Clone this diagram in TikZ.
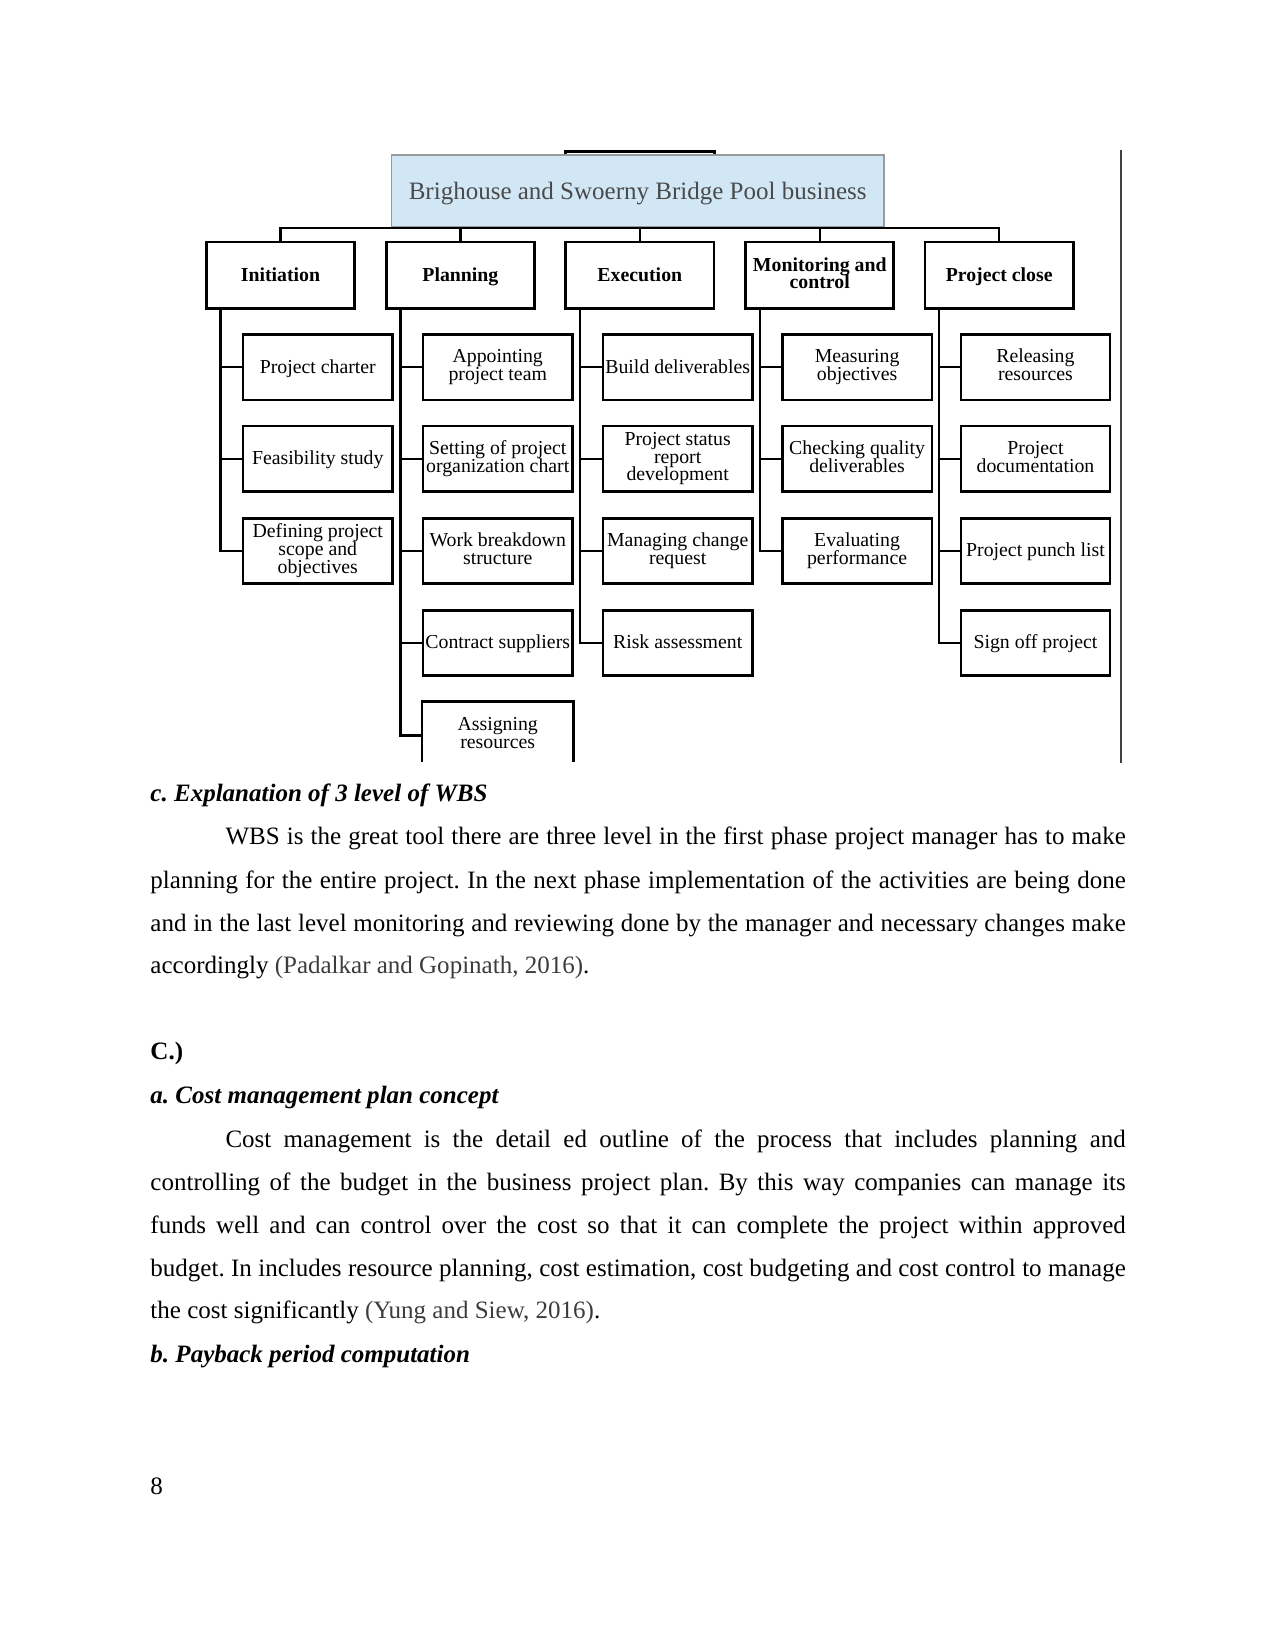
\documentclass[tikz,border=0pt]{standalone}
\usepackage{fontspec}
\setmainfont{Liberation Serif}
\usetikzlibrary{calc}
\definecolor{topfill}{HTML}{D2E7F6}
\definecolor{topdraw}{HTML}{9A9A9A}
\definecolor{toptext}{HTML}{4A4A4A}
\definecolor{citecol}{HTML}{3C3C3C}
\definecolor{rulecol}{HTML}{404040}
\frenchspacing
\newcommand{\tightlines}{\lineskiplimit=-10pt\relax}
\newcommand{\topstrut}{\vrule height 8pt depth 0pt width 0pt\relax}
\newcommand{\botstrut}{\vrule height 0pt depth 2.2pt width 0pt\relax}
\begin{document}
\begin{tikzpicture}[x=0.50495pt,y=-0.50495pt,
  lvl/.style={draw=black, line width=1.4pt, minimum width=71.2pt, minimum height=31.8pt,
    inner sep=1pt, align=center, font=\bfseries\fontsize{9.5}{8.3}\selectfont\tightlines,
    execute at begin node=\topstrut, execute at end node=\botstrut},
  kid/.style={draw=black, line width=1.2pt, minimum width=71.7pt, minimum height=31.3pt,
    inner sep=0.5pt, align=center, font=\fontsize{9.5}{8.6}\selectfont\tightlines,
    execute at begin node=\topstrut, execute at end node=\botstrut},
  kidopen/.style={kid, draw=none},
  conn/.style={line width=1.1pt},
  body/.style={anchor=base west, inner sep=0pt, font=\fontsize{12}{14}\selectfont},
  head/.style={body, font=\fontsize{12}{14}\selectfont\bfseries\itshape},
]
\useasboundingbox (0,0) rectangle (1212,1568);

% ---------- top of the chart ----------
\draw[line width=1.5pt] (537,148) -- (537,144) -- (679,144) -- (679,148);
\node[draw=topdraw, fill=topfill, line width=0.8pt, minimum width=236.3pt, minimum height=34.8pt,
  inner sep=0pt] (top) at (606,181.5) {};
\node[inner sep=0pt, font=\fontsize{12}{14}\selectfont, text=toptext, yshift=-1pt] (toplabel) at (top.center)
  {Brighouse and Swoerny Bridge Pool business};
\draw[rulecol, line width=0.8pt] (1065,143) -- (1065,725);

% ---------- level 1 ----------
\node[lvl] (init) at (266.5,261.5) {Initiation};
\node[lvl] (plan) at (437.5,261.5) {Planning};
\node[lvl] (exec) at (608,261.5) {Execution};
\node[lvl] (mon)  at (779,261.5) {Monitoring and\\control};
\node[lvl] (close) at (949.5,261.5) {Project close};

\coordinate (bus) at (608,217);
\draw[conn] (init.north) |- (bus) -| (close.north);
\draw[conn] (plan.north) -- (plan.north |- bus);
\draw[conn] (exec.north) -- (exec.north |- bus);
\draw[conn] (mon.north) -- (mon.north |- bus);

% ---------- level 2 ----------
\node[kid] (i1) at (302,349) {Project charter};
\node[kid] (i2) at (302,436) {Feasibility study};
\node[kid] (i3) at (302,523.5) {Defining project\\scope and\\objectives};

\node[kid] (p1) at (473,349) {Appointing\\project team};
\node[kid] (p2) at (473,436) {Setting of project\\organization chart};
\node[kid] (p3) at (473,523.5) {Work breakdown\\structure};
\node[kid] (p4) at (473,611) {Contract suppliers};
\node[kidopen] (p5) at (473,699) {Assigning\\resources};
\draw[line width=1.2pt] ($(p5.north west)+(0,57)$) -- (p5.north west) -- (p5.north east) -- ($(p5.north east)+(0,57)$);

\node[kid] (e1) at (644,349) {Build deliverables};
\node[kid] (e2) at (644,436) {Project status\\report\\development};
\node[kid] (e3) at (644,523.5) {Managing change\\request};
\node[kid] (e4) at (644,611) {Risk assessment};

\node[kid] (m1) at (814.5,349) {Measuring\\objectives};
\node[kid] (m2) at (814.5,436) {Checking quality\\deliverables};
\node[kid] (m3) at (814.5,523.5) {Evaluating\\performance};

\node[kid] (c1) at (984,349) {Releasing\\resources};
\node[kid] (c2) at (984,436) {Project\\documentation};
\node[kid] (c3) at (984,523.5) {Project punch list};
\node[kid] (c4) at (984,611) {Sign off project};

\coordinate (bi) at ($(init.south west)+(15,0)$);
\coordinate (bp) at ($(plan.south west)+(15,0)$);
\coordinate (be) at ($(exec.south west)+(15,0)$);
\coordinate (bm) at ($(mon.south west)+(15,0)$);
\coordinate (bc) at ($(close.south west)+(15,0)$);

\draw[conn] (bi) |- (i3.west);
\draw[conn] (i1.west) -- (i1.west -| bi);
\draw[conn] (i2.west) -- (i2.west -| bi);

\draw[conn] (bp) |- (p5.west);
\draw[conn] (p1.west) -- (p1.west -| bp);
\draw[conn] (p2.west) -- (p2.west -| bp);
\draw[conn] (p3.west) -- (p3.west -| bp);
\draw[conn] (p4.west) -- (p4.west -| bp);

\draw[conn] (be) |- (e4.west);
\draw[conn] (e1.west) -- (e1.west -| be);
\draw[conn] (e2.west) -- (e2.west -| be);
\draw[conn] (e3.west) -- (e3.west -| be);

\draw[conn] (bm) |- (m3.west);
\draw[conn] (m1.west) -- (m1.west -| bm);
\draw[conn] (m2.west) -- (m2.west -| bm);

\draw[conn] (bc) |- (c4.west);
\draw[conn] (c1.west) -- (c1.west -| bc);
\draw[conn] (c2.west) -- (c2.west -| bc);
\draw[conn] (c3.west) -- (c3.west -| bc);

% ---------- body text ----------
\node[head] (h1) at (142.6,762) {c. Explanation of 3 level of WBS};
\node[body] (a1) at (142.6,803) {\hbox to 468pt{\kern36pt WBS is the great tool there are three level in the first phase project manager has to make}};
\node[body] (a2) at (142.6,844) {\hbox to 468pt{planning for the entire project. In the next phase implementation of the activities are being done}};
\node[body] (a3) at (142.6,885) {\hbox to 468pt{and in the last level monitoring and reviewing done by the manager and necessary changes make}};
\node[body] (a4) at (142.6,925) {accordingly {\color{citecol}(Padalkar and Gopinath, 2016)}.};

\node[body, font=\fontsize{12}{14}\selectfont\bfseries] (h2) at (142.6,1007) {C.)};
\node[head] (h3) at (142.6,1049) {a. Cost management plan concept};
\node[body] (b1) at (142.6,1090) {\hbox to 468pt{\kern36pt Cost management is the detail ed outline of the process that includes planning and}};
\node[body] (b2) at (142.6,1131) {\hbox to 468pt{controlling of the budget in the business project plan. By this way companies can manage its}};
\node[body] (b3) at (142.6,1172) {\hbox to 468pt{funds well and can control over the cost so that it can complete the project within approved}};
\node[body] (b4) at (142.6,1213) {\hbox to 468pt{budget. In includes resource planning, cost estimation, cost budgeting and cost control to manage}};
\node[body] (b5) at (142.6,1253) {the cost significantly {\color{citecol}(Yung and Siew, 2016)}.};
\node[head] (h4) at (142.6,1295) {b. Payback period computation};

\node[body] (pg) at (142.6,1420) {8};
\end{tikzpicture}
\end{document}
